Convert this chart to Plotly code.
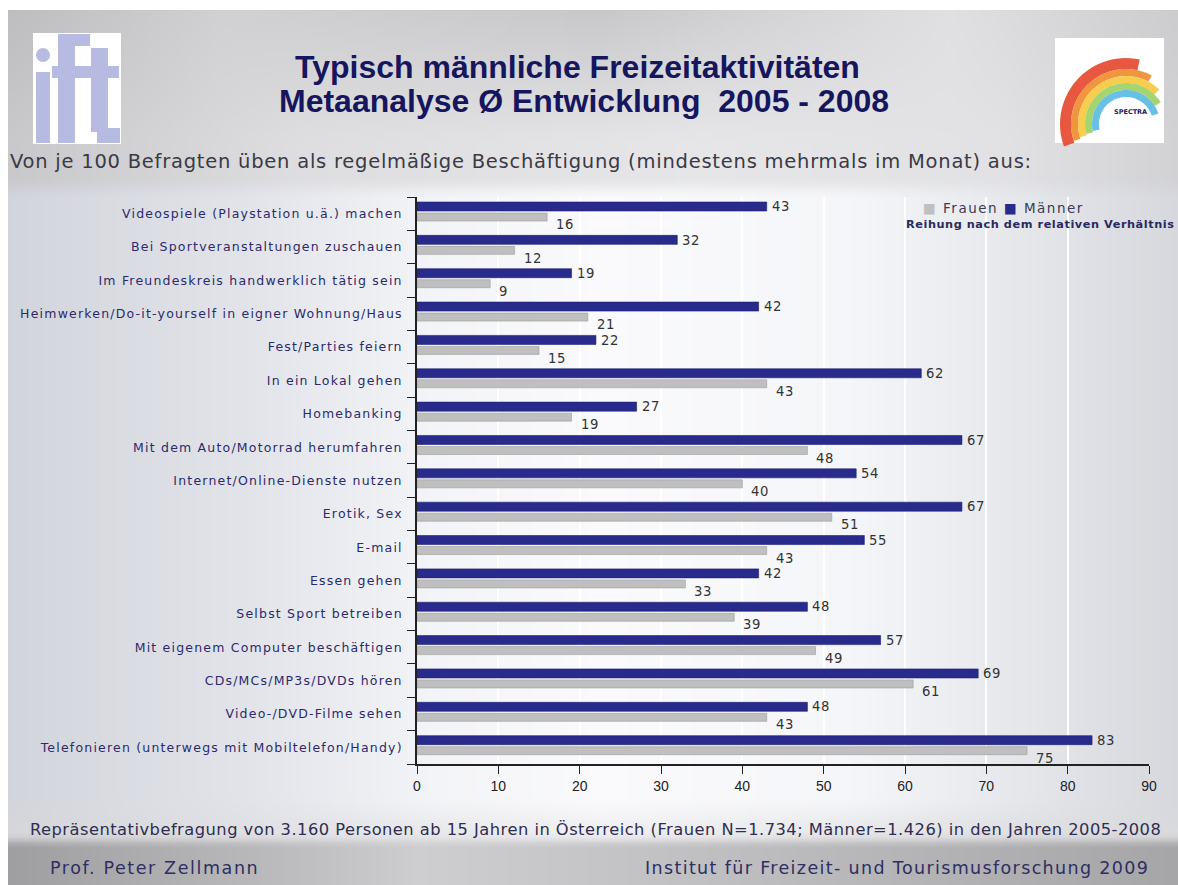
import base64
import math
import struct
import zlib

import plotly.graph_objects as go

# ---------------- data ----------------
categories = [
    "Videospiele (Playstation u.ä.) machen",
    "Bei Sportveranstaltungen zuschauen",
    "Im Freundeskreis handwerklich tätig sein",
    "Heimwerken/Do-it-yourself in eigner Wohnung/Haus",
    "Fest/Parties feiern",
    "In ein Lokal gehen",
    "Homebanking",
    "Mit dem Auto/Motorrad herumfahren",
    "Internet/Online-Dienste nutzen",
    "Erotik, Sex",
    "E-mail",
    "Essen gehen",
    "Selbst Sport betreiben",
    "Mit eigenem Computer beschäftigen",
    "CDs/MCs/MP3s/DVDs hören",
    "Video-/DVD-Filme sehen",
    "Telefonieren (unterwegs mit Mobiltelefon/Handy)",
]
maenner = [43, 32, 19, 42, 22, 62, 27, 67, 54, 67, 55, 42, 48, 57, 69, 48, 83]
frauen = [16, 12, 9, 21, 15, 43, 19, 48, 40, 51, 43, 33, 39, 49, 61, 43, 75]
x_ticks = [0, 10, 20, 30, 40, 50, 60, 70, 80, 90]

title_1 = "Typisch männliche Freizeitaktivitäten"
title_2 = "Metaanalyse Ø Entwicklung  2005 - 2008"
subtitle = "Von je 100 Befragten üben als regelmäßige Beschäftigung (mindestens mehrmals im Monat) aus:"
note = ("Repräsentativbefragung von 3.160 Personen ab 15 Jahren in Österreich "
        "(Frauen N=1.734; Männer=1.426) in den Jahren 2005-2008")
footer_left = "Prof. Peter Zellmann"
footer_right = "Institut für Freizeit- und Tourismusforschung 2009"
legend_note = "Reihung nach dem relativen Verhältnis"
series_names = ["Frauen", "Männer"]

# ---------------- style ----------------
W, H = 1178, 885
ML, MR, MT, MB = 417, 29, 197, 121
PW, PH = W - ML - MR, H - MT - MB
MAENNER_COLOR = "#282a8c"
FRAUEN_COLOR = "#bfbfbf"
NAVY = "#16165e"
LABEL_NAVY = "#2b2b6b"
TEXT_DARK = "#333333"


def px(x):
    return (x - ML) / PW


def py(y):
    return (H - MB - y) / PH


def spaced(text, ls):
    return f"<span style='letter-spacing:{ls}px'>{text}</span>"


# ---------------- background gradient image ----------------
def lerp(a, b, t):
    return tuple(a[i] + (b[i] - a[i]) * t for i in range(3))


def profile(stops, x):
    if x <= stops[0][0]:
        return stops[0][1]
    for (x0, c0), (x1, c1) in zip(stops, stops[1:]):
        if x <= x1:
            return lerp(c0, c1, (x - x0) / (x1 - x0))
    return stops[-1][1]


header_top = [(0, (188, 188, 190)), (220, (208, 208, 210)), (600, (198, 198, 200)),
              (950, (224, 224, 226)), (1178, (204, 204, 206))]
header_bot = [(0, (200, 200, 203)), (300, (222, 222, 225)), (700, (230, 230, 232)),
              (1000, (226, 226, 229)), (1178, (210, 210, 213))]
chart = [(0, (210, 212, 219)), (250, (226, 228, 234)), (430, (243, 244, 247)),
         (600, (250, 250, 252)), (850, (245, 246, 249)), (1000, (231, 233, 237)),
         (1178, (214, 216, 221))]
note_row = [(0, (214, 214, 218)), (600, (238, 238, 240)), (1178, (218, 218, 221))]
footer = [(0, (158, 158, 160)), (250, (184, 184, 186)), (420, (206, 206, 208)),
          (700, (192, 192, 194)), (1178, (166, 166, 168))]
rows = [(0, header_top), (140, header_bot), (180, header_bot), (196, chart),
        (800, chart), (836, note_row), (846, footer), (885, footer)]


def bg_color(x, y):
    for (y0, p0), (y1, p1) in zip(rows, rows[1:]):
        if y <= y1:
            t = 0 if y1 == y0 else (y - y0) / (y1 - y0)
            return lerp(profile(p0, x), profile(p1, x), max(0, min(1, t)))
    return profile(rows[-1][1], x)


def make_png(w, h, func):
    raw = bytearray()
    for j in range(h):
        raw.append(0)
        for i in range(w):
            c = func((i + 0.5) * W / w, (j + 0.5) * H / h)
            raw.extend(int(round(v)) for v in c)

    def chunk(tag, data):
        c = struct.pack(">I", len(data)) + tag + data
        return c + struct.pack(">I", zlib.crc32(tag + data) & 0xffffffff)

    png = b"\x89PNG\r\n\x1a\n"
    png += chunk(b"IHDR", struct.pack(">IIBBBBB", w, h, 8, 2, 0, 0, 0))
    png += chunk(b"IDAT", zlib.compress(bytes(raw), 9))
    png += chunk(b"IEND", b"")
    return "data:image/png;base64," + base64.b64encode(png).decode()


bg_src = make_png(236, 177, bg_color)

# ---------------- figure ----------------
fig = go.Figure()
fig.add_trace(go.Bar(
    y=categories, x=frauen, orientation="h", name=series_names[0],
    marker=dict(color=FRAUEN_COLOR, line=dict(color="#9c9c9c", width=0.6)),
    offset=-0.02, width=0.24, hoverinfo="x+y",
))
fig.add_trace(go.Bar(
    y=categories, x=maenner, orientation="h", name=series_names[1],
    marker=dict(color=MAENNER_COLOR, line=dict(color="#1c1e70", width=0.6)),
    offset=-0.35, width=0.27, hoverinfo="x+y",
))

annotations = []
for c, m, f in zip(categories, maenner, frauen):
    annotations.append(dict(x=m, y=c, xref="x", yref="y", text=spaced(m, 0.6), showarrow=False,
                            xanchor="left", yanchor="middle", xshift=3, yshift=7,
                            font=dict(family="DejaVu Sans", size=13.2, color=TEXT_DARK)))
    annotations.append(dict(x=f, y=c, xref="x", yref="y", text=spaced(f, 0.6), showarrow=False,
                            xanchor="left", yanchor="middle", xshift=7, yshift=-11,
                            font=dict(family="DejaVu Sans", size=13.2, color=TEXT_DARK)))


def paper_text(x, y, text, size, color, family="DejaVu Sans", anchor="left", weight="normal"):
    annotations.append(dict(x=px(x), y=py(y), xref="paper", yref="paper", text=text,
                            showarrow=False, xanchor=anchor, yanchor="middle",
                            font=dict(family=family, size=size, color=color, weight=weight)))


paper_text(577, 67, title_1, 32, NAVY, "Liberation Sans", "center", "bold")
paper_text(584, 101, title_2, 32, NAVY, "Liberation Sans", "center", "bold")
paper_text(8, 161, spaced(subtitle, 0.76), 19.5, "#3a3a44")
paper_text(28, 830, spaced(note, 0.48), 16.3, "#2e2e50")
paper_text(48, 868, spaced(footer_left, 1.6), 17.5, "#2e2e62")
paper_text(1151, 868, spaced(footer_right, 1.36), 17.5, "#2e2e62", anchor="right")
# legend
legend_html = (f"<span style='color:{FRAUEN_COLOR}'>■</span> {series_names[0]} "
               f"<span style='color:{MAENNER_COLOR}'>■</span> {series_names[1]}")
paper_text(921, 208, spaced(legend_html, 1.5), 13.5, "#3a3a55", "DejaVu Sans")
paper_text(1176, 224, spaced(legend_note, 0.55), 11.3, "#2a2a5e", "DejaVu Sans",
           anchor="right", weight="bold")

shapes = []
# white page margins
shapes.append(dict(type="rect", xref="paper", yref="paper", x0=px(0), x1=px(W), y0=py(0), y1=py(10),
                   fillcolor="white", line=dict(width=0), layer="below"))
shapes.append(dict(type="rect", xref="paper", yref="paper", x0=px(0), x1=px(8), y0=py(0), y1=py(H),
                   fillcolor="white", line=dict(width=0), layer="below"))


def rect(x0, y0, x1, y1, color):
    shapes.append(dict(type="rect", xref="paper", yref="paper", x0=px(x0), x1=px(x1),
                       y0=py(y1), y1=py(y0), fillcolor=color, line=dict(width=0), layer="below"))


# ift logo (left)
LAV = "#b7bbe2"
rect(33, 33, 121, 144, "white")
shapes.append(dict(type="circle", xref="paper", yref="paper", x0=px(36), x1=px(50), y0=py(62), y1=py(48),
                   fillcolor=LAV, line=dict(width=0), layer="below"))
rect(36, 72, 50, 143, LAV)
rect(58, 44, 75, 143, LAV)
rect(58, 34, 90, 46, LAV)
rect(52, 66, 86, 78, LAV)
rect(91, 48, 108, 132, LAV)
rect(86, 66, 119, 78, LAV)
rect(97, 128, 120, 143, LAV)

# spectra logo (right)
rect(1055, 38, 1164, 143, "white")
cx, cy = 1126, 124
bands = [(55, 66, "#e5452a", 200, 78), (48, 55, "#f08a2a", 198, 62), (41, 48, "#f5c83a", 196, 46),
         (34, 41, "#9ad062", 194, 32), (27, 34, "#58b9e2", 192, 18)]
for r0, r1, col, a0, a1 in bands:
    pts = []
    n = 30
    for k in range(n + 1):
        a = math.radians(a0 + (a1 - a0) * k / n)
        pts.append((cx + r1 * math.cos(a), cy - r1 * math.sin(a)))
    for k in range(n + 1):
        a = math.radians(a1 + (a0 - a1) * k / n)
        pts.append((cx + r0 * math.cos(a), cy - r0 * math.sin(a)))
    path = "M " + " L ".join(f"{px(x):.5f},{py(y):.5f}" for x, y in pts) + " Z"
    shapes.append(dict(type="path", xref="paper", yref="paper", path=path, fillcolor=col,
                       line=dict(width=0), layer="below", opacity=0.9))
paper_text(1130, 112, "SPECTRA", 6.5, "#1c1c5a", "DejaVu Sans", "center", "bold")

fig.update_layout(
    width=W, height=H,
    margin=dict(l=ML, r=MR, t=MT, b=MB, autoexpand=False),
    paper_bgcolor="#d0d0d4",
    plot_bgcolor="rgba(0,0,0,0)",
    barmode="overlay",
    showlegend=False,
    annotations=annotations,
    shapes=shapes,
    images=[dict(source=bg_src, xref="paper", yref="paper", x=px(0), y=py(0),
                 sizex=W / PW, sizey=H / PH, xanchor="left", yanchor="top",
                 sizing="stretch", layer="below")],
    xaxis=dict(range=[0, 90], tickvals=x_ticks, ticktext=[str(v) for v in x_ticks],
               showgrid=True, gridcolor="rgba(255,255,255,0.95)", gridwidth=1.5,
               showline=True, linecolor="#222222", linewidth=1.5,
               ticks="outside", ticklen=8, tickcolor="#222222", tickwidth=1.3,
               tickfont=dict(family="Liberation Sans", size=14, color="#222222"),
               zeroline=False, automargin=False, fixedrange=True),
    yaxis=dict(type="category", categoryorder="array", categoryarray=categories,
               tickvals=categories, ticktext=[spaced(c, 1.2) for c in categories],
               range=[len(categories) - 0.5, -0.5],
               showgrid=False, showline=True, linecolor="#222222", linewidth=1.5,
               ticks="outside", ticklen=8, tickcolor="#222222", tickwidth=1.3,
               tickson="boundaries", ticklabelstandoff=10,
               tickfont=dict(family="DejaVu Sans", size=12.5, color=LABEL_NAVY),
               automargin=False, fixedrange=True),
)

fig.write_html("out.html", config={"displayModeBar": False},
               post_script="document.body.style.margin='0px';document.body.style.overflow='hidden';")
